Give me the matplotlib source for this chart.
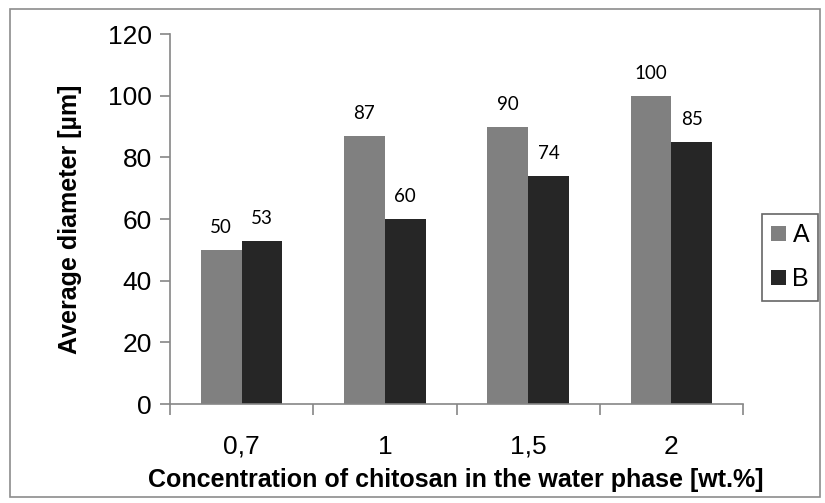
import matplotlib
matplotlib.use("Agg")
import matplotlib.pyplot as plt
import numpy as np
from matplotlib.patches import Rectangle

categories = ["0,7", "1", "1,5", "2"]
series_a = [50, 87, 90, 100]
series_b = [53, 60, 74, 85]
series_names = ["A", "B"]
y_ticks = [0, 20, 40, 60, 80, 100, 120]

W, H = 825, 503
fig = plt.figure(figsize=(W / 100, H / 100), dpi=100)

# outer chart frame
fig.patches.append(Rectangle((10 / W, 1 - 497 / H), 810 / W, 488 / H,
                             transform=fig.transFigure, fill=False,
                             edgecolor="#8c8c8c", linewidth=1.2))

ax = fig.add_axes([170 / W, 1 - 404 / H, 573 / W, 370 / H])

x = np.arange(len(categories))
bw = 0.285
col_a, col_b = "#808080", "#262626"
bars_a = ax.bar(x - bw / 2, series_a, bw, color=col_a, label=series_names[0])
bars_b = ax.bar(x + bw / 2, series_b, bw, color=col_b, label=series_names[1])

for bars, vals in ((bars_a, series_a), (bars_b, series_b)):
    for b, v in zip(bars, vals):
        ax.annotate(f"{v}", (b.get_x() + b.get_width() / 2, v),
                    xytext=(0, 10), textcoords="offset points",
                    ha="center", va="bottom", fontsize=13.5,
                    family=["Lato", "DejaVu Sans"], color="black")

ax.set_xlim(-0.5, len(categories) - 0.5)
ax.set_ylim(0, 120)
ax.set_yticks(y_ticks)
ax.set_yticklabels([str(t) for t in y_ticks], family="Liberation Sans", fontsize=19)
ax.set_xticks(x)
ax.set_xticklabels(categories, family="Liberation Sans", fontsize=19)
ax.tick_params(axis="x", length=0, pad=22)
ax.set_xticks(np.arange(-0.5, len(categories)), minor=True)
ax.tick_params(axis="x", which="minor", length=8, color="#868686", width=1.2)
ax.tick_params(axis="y", length=7, color="#868686", width=1.2, pad=6)

for s in ("top", "right"):
    ax.spines[s].set_visible(False)
for s in ("left", "bottom"):
    ax.spines[s].set_color("#868686")
    ax.spines[s].set_linewidth(1.2)

fig.text(456 / W, 1 - 480 / H, "Concentration of chitosan in the water phase [wt.%]",
         ha="center", va="center", fontsize=18, fontweight="bold",
         family="Liberation Sans")
fig.text(70 / W, 1 - 219 / H, "Average diameter [\u00b5m]", rotation=90,
         ha="center", va="center", fontsize=18, fontweight="bold",
         family="Liberation Sans")

leg = ax.legend(handles=[bars_a, bars_b], loc="upper left",
                bbox_to_anchor=(762 / W, 1 - 214 / H), bbox_transform=fig.transFigure,
                borderaxespad=0, frameon=True, fancybox=False,
                handlelength=0.6, handleheight=0.6, handletextpad=0.25,
                labelspacing=0.8, borderpad=0.37,
                prop={"family": "Liberation Sans", "size": 18})
leg.get_frame().set_edgecolor("#404040")
leg.get_frame().set_linewidth(1.2)

fig.savefig("out.png", dpi=100)
